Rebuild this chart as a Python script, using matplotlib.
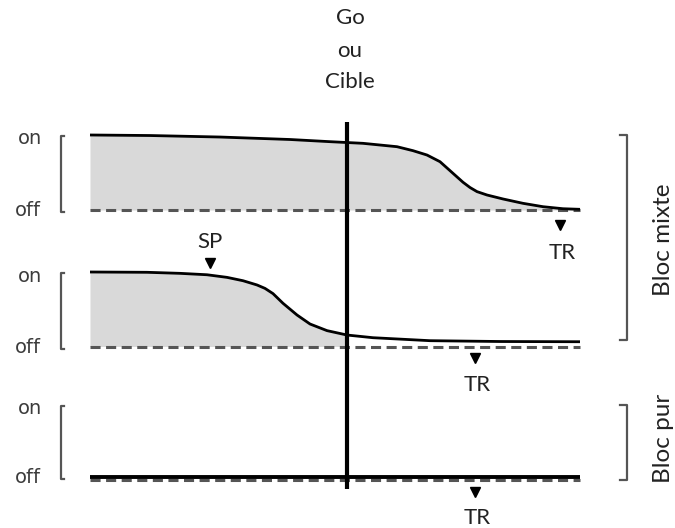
import matplotlib.pyplot as plt
import numpy as np

# time positions (pixel-like units along the trial) and signal levels (1 = on, 0 = off)
t_top = [90, 150, 220, 290, 330, 363, 397, 413, 427, 440, 453, 463, 470, 477, 487, 503, 523, 543, 563, 580]
lvl_top = [1.0, 0.993, 0.973, 0.94, 0.911, 0.889, 0.844, 0.791, 0.733, 0.644, 0.489,
           0.37, 0.3, 0.245, 0.2, 0.147, 0.089, 0.044, 0.017, 0.009]

t_mid = [90, 147, 180, 207, 227, 243, 257, 265, 273, 283, 297, 310, 327, 347, 373, 430, 500, 580]
lvl_mid = [1.0, 0.996, 0.982, 0.963, 0.928, 0.883, 0.826, 0.78, 0.71, 0.58, 0.423, 0.302,
           0.213, 0.154, 0.118, 0.078, 0.067, 0.064]

t_bot = [90, 580]
lvl_bot = [0.0, 0.0]

t_go = 347          # Go / Cible onset
t_sp = 210          # SP marker
t_tr = [560, 475, 475]  # TR markers per row
fill_end_mid = 347

# row layout (y pixel of off / on levels)
off_y = [210, 346.5, 476.5]
on_y = [135, 272, 405]

fig = plt.figure(figsize=(6.75, 5.28), dpi=100)
ax = fig.add_axes([0, 0, 1, 1])
ax.set_xlim(0, 675)
ax.set_ylim(528, 0)
ax.axis('off')

def to_y(row, lvl):
    lvl = np.asarray(lvl, dtype=float)
    return off_y[row] - lvl * (off_y[row] - on_y[row])

grey = '#555555'
fill_c = '#d9d9d9'
lab_font = ['Lato', 'DejaVu Sans']
txt_c = '#222222'

# row 1 (mixed block, go trial)
y1 = to_y(0, lvl_top)
ax.fill_between(t_top, y1, off_y[0], color=fill_c, lw=0, zorder=1)
ax.plot([t_top[0], t_top[-1]], [off_y[0]] * 2, color=grey, lw=2.2, dashes=(3.3, 1.8), zorder=2)
ax.plot(t_top, y1, color='black', lw=2.0, zorder=3, solid_capstyle='butt', solid_joinstyle='round')

# row 2 (mixed block, stop trial)
y2 = to_y(1, lvl_mid)
tm = np.array(t_mid)
mask = tm <= fill_end_mid
ax.fill_between(tm[mask], y2[mask], off_y[1], color=fill_c, lw=0, zorder=1)
ax.plot([t_mid[0], t_mid[-1]], [off_y[1]] * 2, color=grey, lw=2.2, dashes=(3.3, 1.8), zorder=2)
ax.plot(t_mid, y2, color='black', lw=2.0, zorder=3, solid_capstyle='butt', solid_joinstyle='round')

# row 3 (pure block)
ax.plot([t_bot[0], t_bot[-1]], [off_y[2] + 3.0] * 2, color=grey, lw=2.2, dashes=(3.3, 1.8), zorder=2)
ax.plot(t_bot, to_y(2, lvl_bot), color='black', lw=2.8, zorder=3, solid_capstyle='butt')

# Go / Cible line
ax.plot([t_go, t_go], [122, 489], color='black', lw=3.0, zorder=4, solid_capstyle='butt')
for ty, s in [(18, 'Go'), (51, 'ou'), (82, 'Cible')]:
    ax.text(350, ty, s, ha='center', va='center', fontsize=16, family=lab_font, color=txt_c)

# markers
ax.plot(t_sp, 263, marker='v', color='black', ms=7, zorder=5)
ax.text(t_sp, 242, 'SP', ha='center', va='center', fontsize=16, family=lab_font, color=txt_c)
tr_my = [225, 358, 492]
tr_ty = [253, 385, 518]
for x, my, ty in zip(t_tr, tr_my, tr_ty):
    ax.plot(x, my, marker='v', color='black', ms=7, zorder=5)
    ax.text(x + 2, ty, 'TR', ha='center', va='center', fontsize=16, family=lab_font, color=txt_c)

# left on/off brackets
for r in range(3):
    top, bot = on_y[r] + 1, off_y[r] + 2
    ax.plot([64, 61, 61, 64], [top, top, bot, bot], color=grey, lw=1.6, zorder=2)
    ax.text(30, on_y[r] + 4, 'on', ha='center', va='center', fontsize=14, color='#3c3c3c')
    ax.text(28, off_y[r] + 1, 'off', ha='center', va='center', fontsize=14, color='#3c3c3c')

# right block brackets
for top, bot, lab, cy in [(135, 340, 'Bloc mixte', 240), (405, 480, 'Bloc pur', 438)]:
    ax.plot([620, 627, 627, 620], [top, top, bot, bot], color=grey, lw=1.6, zorder=2)
    ax.text(664, cy, lab, ha='center', va='center', rotation=90, fontsize=17.5,
            family=lab_font, color=txt_c)

plt.savefig('out.png', dpi=100)
